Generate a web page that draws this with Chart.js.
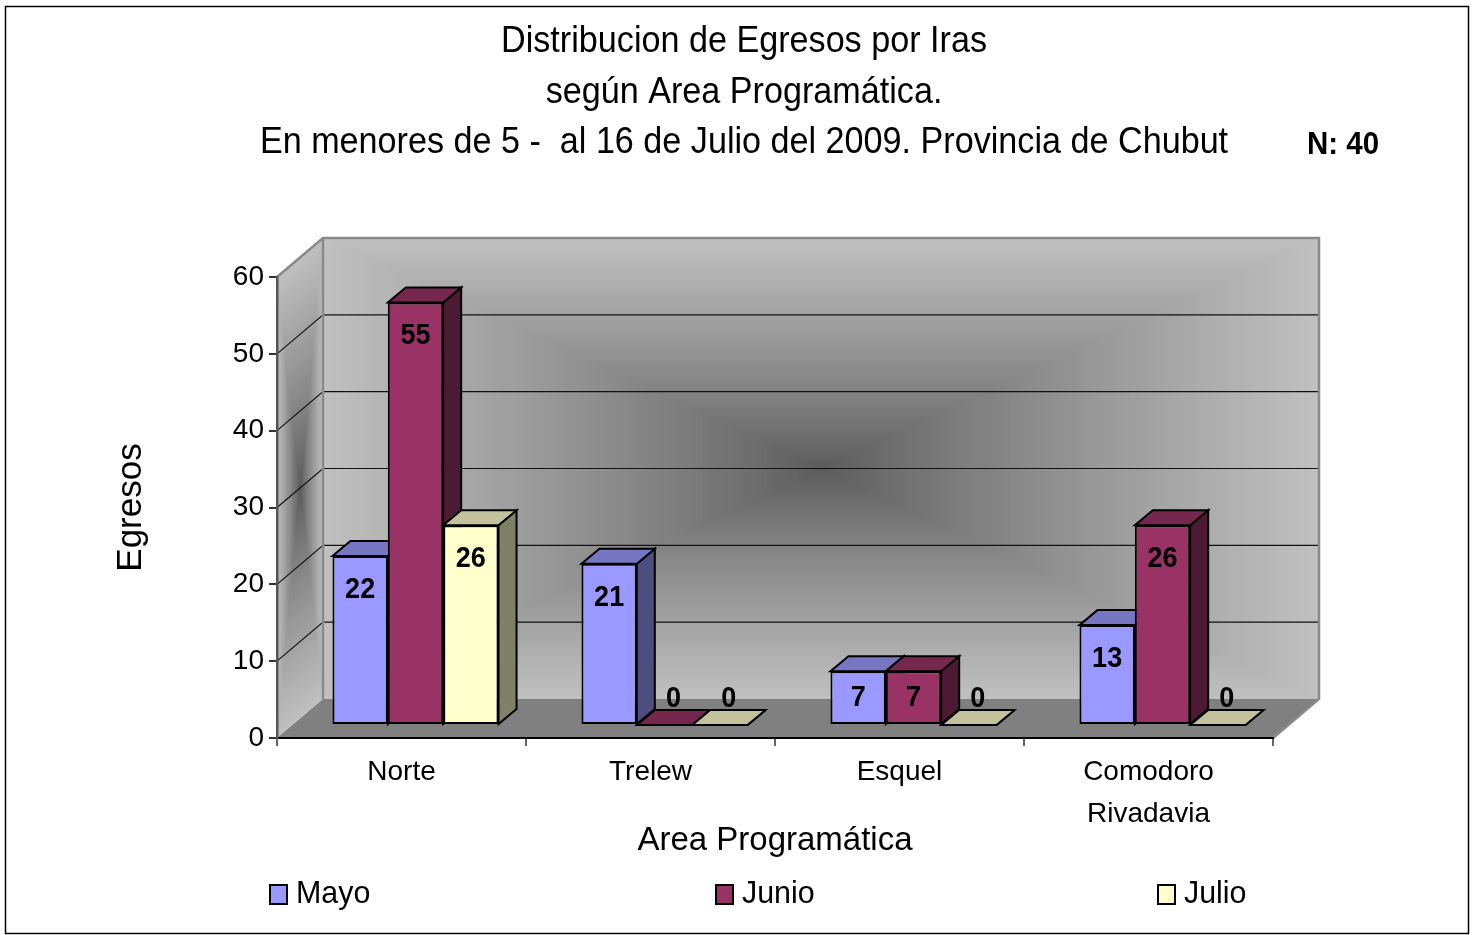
<!DOCTYPE html>
<html>
<head>
<meta charset="utf-8">
<title>Distribucion de Egresos por Iras</title>
<script src="https://cdn.jsdelivr.net/npm/chart.js@4"></script>
<style>
  html, body { margin: 0; padding: 0; background: #fff; }
  canvas { display: block; }
</style>
</head>
<body>
<canvas id="chart" width="1474" height="935"></canvas>
<script>
var categories = ["Norte", "Trelew", "Esquel", ["Comodoro", "Rivadavia"]];
var mayo = [22, 21, 7, 13];
var junio = [55, 0, 7, 26];
var julio = [26, 0, 0, 0];
var seriesNames = ["Mayo", "Junio", "Julio"];
var titleLines = ["Distribucion de Egresos por Iras", "según Area Programática.", "En menores de 5 -  al 16 de Julio del 2009. Provincia de Chubut"];
var noteText = "N: 40";

var FONT = '"Liberation Sans", Arial, sans-serif';
var frontColors = ["#9999ff", "#993366", "#ffffcc"];
var topColors = ["#7676c2", "#76274e", "#c2c29c"];
var sideColors = ["#4d4d80", "#4d1a33", "#808066"];
var legendX = [270, 716, 1158];
var wallDx = 46, wallDy = 39;   // depth of the floor
var barDx = 14, barDy = 13;     // bars stand this far behind the front edge
var depthX = 18, depthY = 15;   // depth of one bar

// squeezed text, the picture has narrow letters
function squeezed(ctx, text, x, y, font, sx, align) {
  ctx.save();
  ctx.font = font;
  ctx.fillStyle = "#000";
  ctx.textAlign = align || "left";
  ctx.textBaseline = "alphabetic";
  ctx.translate(x, y);
  ctx.scale(sx, 1);
  ctx.fillText(text, 0, 0);
  ctx.restore();
}

// rectangular gradient, dark in the middle and light at the edges
function shadeRect(ctx, x, y, w, h) {
  var steps = 110;
  for (var i = 0; i < steps; i++) {
    var t = 1 - i / steps;
    var g = Math.round(90 + 102 * Math.pow(t, 0.85));
    ctx.fillStyle = "rgb(" + g + "," + g + "," + g + ")";
    ctx.fillRect(x + w / 2 * (1 - t), y + h / 2 * (1 - t), w * t, h * t);
  }
}

function poly(ctx, pts, fill, stroke, width) {
  ctx.beginPath();
  ctx.moveTo(pts[0][0], pts[0][1]);
  for (var i = 1; i < pts.length; i++) ctx.lineTo(pts[i][0], pts[i][1]);
  ctx.closePath();
  if (fill) { ctx.fillStyle = fill; ctx.fill(); }
  if (stroke) { ctx.strokeStyle = stroke; ctx.lineWidth = width; ctx.lineJoin = "miter"; ctx.stroke(); }
}

var wallsPlugin = {
  id: "walls",
  beforeDraw: function (chart) {
    var ctx = chart.ctx, a = chart.chartArea, y = chart.scales.y;
    var l = a.left, r = a.right, t = a.top, b = a.bottom;
    ctx.save();
    ctx.fillStyle = "#fff";
    ctx.fillRect(0, 0, chart.width, chart.height);

    // back wall
    shadeRect(ctx, l + wallDx, t - wallDy, r - l, b - t);
    // side wall
    ctx.save();
    ctx.transform(1, -wallDy / wallDx, 0, 1, l, t);
    shadeRect(ctx, 0, 0, wallDx, b - t);
    ctx.restore();
    // floor
    poly(ctx, [[l, b], [l + wallDx, b - wallDy], [r + wallDx, b - wallDy], [r, b]], "#808080");

    // grid lines on the walls
    ctx.strokeStyle = "#111";
    ctx.lineWidth = 1.2;
    y.ticks.forEach(function (tick) {
      if (tick.value === 0 || tick.value === y.max) return;
      var py = y.getPixelForValue(tick.value);
      ctx.beginPath();
      ctx.moveTo(l, py);
      ctx.lineTo(l + wallDx, py - wallDy);
      ctx.lineTo(r + wallDx, py - wallDy);
      ctx.stroke();
    });

    // wall edges
    ctx.strokeStyle = "#8a8a8a";
    ctx.lineWidth = 2.5;
    ctx.beginPath();
    ctx.moveTo(l, t);
    ctx.lineTo(l + wallDx, t - wallDy);
    ctx.lineTo(r + wallDx, t - wallDy);
    ctx.lineTo(r + wallDx, b - wallDy);
    ctx.lineTo(r, b);
    ctx.moveTo(l + wallDx, t - wallDy);
    ctx.lineTo(l + wallDx, b - wallDy);
    ctx.stroke();

    // outer frame
    ctx.strokeStyle = "#000";
    ctx.lineWidth = 1.5;
    ctx.strokeRect(5.5, 6.5, 1463, 927);
    ctx.restore();

    // title and note
    titleLines.forEach(function (line, i) {
      squeezed(ctx, line, 744, 52 + i * 50.5, "37px " + FONT, 0.923, "center");
    });
    squeezed(ctx, noteText, 1307, 154, "bold 31px " + FONT, 0.95);

    // legend
    seriesNames.forEach(function (name, i) {
      ctx.fillStyle = frontColors[i];
      ctx.strokeStyle = "#000";
      ctx.lineWidth = 2;
      ctx.fillRect(legendX[i], 885, 17, 19);
      ctx.strokeRect(legendX[i], 885, 17, 19);
      squeezed(ctx, name, legendX[i] + 26, 903, "32px " + FONT, 0.95);
    });
  },
  beforeDatasetsDraw: function (chart) {
    var ctx = chart.ctx;
    ctx.save();
    ctx.translate(barDx, -barDy);
    // side and top faces, left to right; the library draws the fronts over them
    chart.data.labels.forEach(function (c, j) {
      chart.data.datasets.forEach(function (ds, i) {
        var bar = chart.getDatasetMeta(i).data[j];
        var x0 = bar.x - bar.width / 2, x1 = bar.x + bar.width / 2;
        poly(ctx, [[x1, bar.y], [x1 + depthX, bar.y - depthY], [x1 + depthX, bar.base - depthY], [x1, bar.base]], sideColors[i], "#000", 2);
        poly(ctx, [[x0, bar.y], [x0 + depthX, bar.y - depthY], [x1 + depthX, bar.y - depthY], [x1, bar.y]], topColors[i], "#000", 2);
      });
    });
  },
  afterDatasetsDraw: function (chart) {
    var ctx = chart.ctx;
    // value labels
    chart.data.datasets.forEach(function (ds, i) {
      chart.getDatasetMeta(i).data.forEach(function (bar, j) {
        var v = ds.data[j];
        var px = v === 0 ? bar.x + 9 : bar.x;
        var py = Math.min(bar.y + 42, bar.base - 18);
        squeezed(ctx, String(v), px, py, "bold 30px " + FONT, 0.9, "center");
      });
    });
    ctx.restore();
  }
};

new Chart(document.getElementById("chart"), {
  type: "bar",
  data: {
    labels: categories,
    datasets: [
      { label: seriesNames[0], data: mayo, backgroundColor: frontColors[0] },
      { label: seriesNames[1], data: junio, backgroundColor: frontColors[1] },
      { label: seriesNames[2], data: julio, backgroundColor: frontColors[2] }
    ]
  },
  options: {
    responsive: false,
    animation: false,
    layout: { padding: { left: 0, top: 277, right: 201, bottom: 0 } },
    datasets: {
      bar: {
        categoryPercentage: 0.667,
        barPercentage: 1,
        borderColor: "#000",
        borderWidth: 2,
        borderSkipped: false,
        clip: false
      }
    },
    plugins: {
      legend: { display: false },
      title: { display: false },
      tooltip: { enabled: false }
    },
    scales: {
      x: {
        afterFit: function (scale) { scale.height = 197; },
        grid: { drawOnChartArea: false, color: "#666", lineWidth: 2, tickLength: 8 },
        border: { color: "#000", width: 2 },
        ticks: {
          color: "#000",
          autoSkip: false,
          maxRotation: 0,
          padding: 5,
          font: { family: FONT, size: 28, lineHeight: 1.5 }
        },
        title: {
          display: true,
          text: "Area Programática",
          color: "#000",
          padding: { top: 0, bottom: 74 },
          font: { family: FONT, size: 33 }
        }
      },
      y: {
        min: 0,
        max: 60,
        afterFit: function (scale) { scale.width = 277; },
        grid: { drawOnChartArea: false, color: "#333", lineWidth: 2, tickLength: 8 },
        border: { color: "#555", width: 2.5 },
        ticks: {
          stepSize: 10,
          color: "#000",
          padding: 5,
          font: { family: FONT, size: 28 }
        },
        title: {
          display: true,
          text: "Egresos",
          color: "#000",
          padding: { top: 110, bottom: 0 },
          font: { family: FONT, size: 35 }
        }
      }
    }
  },
  plugins: [wallsPlugin]
});
</script>
</body>
</html>
